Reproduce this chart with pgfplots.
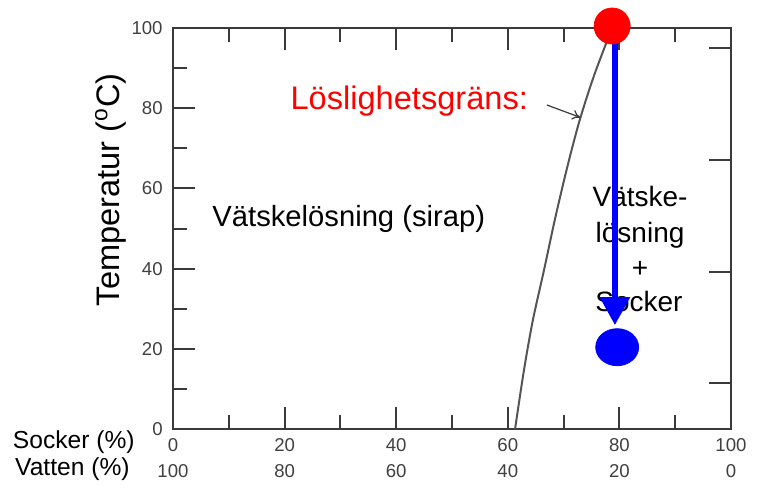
\documentclass[border=0pt]{standalone}
\usepackage{fontspec}
\setmainfont{Liberation Sans}
\usepackage{pgfplots}
\pgfplotsset{compat=1.18}
\usetikzlibrary{arrows.meta}
\definecolor{frame}{HTML}{3A3A3A}
\definecolor{ticklab}{HTML}{404040}
\definecolor{curve}{HTML}{555555}

\begin{document}
\begin{tikzpicture}
\useasboundingbox (-86.5pt,-29pt) rectangle (295.5pt,214.5pt);
\begin{axis}[
  at={(0,0)}, anchor=south west,
  width=279pt, height=200.5pt, scale only axis,
  xmin=0, xmax=100, ymin=0, ymax=100,
  clip=false,
  axis line style={frame, line width=1pt},
  tick style={frame, line width=1pt},
  xtick={0,20,...,100},
  minor xtick={10,30,...,90},
  ytick={0,20,...,100},
  minor ytick={10,30,...,90},
  ytick pos=left,
  tick align=inside,
  major tick length=11pt,
  minor tick length=7pt,
  /pgf/number format/assume math mode=true,
  xticklabels={{0\\100},{20\\80},{40\\60},{60\\40},{80\\20},{100\\0}},
  xticklabel style={align=center, inner sep=0pt, anchor=north, yshift=-4.5pt,
    font=\fontsize{9.3}{13}\selectfont, text=ticklab},
  yticklabel style={inner sep=0pt, anchor=east, xshift=-5pt,
    font=\fontsize{9.3}{11}\selectfont, text=ticklab},
]
% right-hand ticks (no labels)
\draw[frame, line width=1pt] (axis cs:100,95) -- ++(-11pt,0);
\draw[frame, line width=1pt] (axis cs:100,67.1) -- ++(-11pt,0);
\draw[frame, line width=1pt] (axis cs:100,39.2) -- ++(-11pt,0);
\draw[frame, line width=1pt] (axis cs:100,11.5) -- ++(-11pt,0);

% solubility limit
\addplot[curve, line width=1pt, smooth, tension=0.5] coordinates {
  (61.3,0) (62.9,14.7) (64.5,27.2) (66.5,39.7) (68.4,52)
  (70.6,65) (72.9,77.1) (75.6,88.7) (78.7,100)
};
\draw[-{To[length=4pt,width=5pt]}, frame, line width=0.6pt]
  (axis cs:67,80.8) -- (axis cs:73.0,77.7);

% labels
\node[anchor=base west, inner sep=0pt, text=red, font=\fontsize{16.3}{19}\selectfont]
  at (axis cs:21.0,79.6) {Löslighetsgräns:};
\node[anchor=base west, inner sep=0pt, font=\fontsize{14.6}{17}\selectfont]
  at (axis cs:7.0,50.4) {Vätskelösning (sirap)};
\node[anchor=base, inner sep=0pt, font=\fontsize{14}{17}\selectfont] at (axis cs:83.7,55.4) {Vätske-};
\node[anchor=base, inner sep=0pt, font=\fontsize{14}{17}\selectfont] at (axis cs:83.7,46.6) {lösning};
\node[anchor=base, inner sep=0pt, font=\fontsize{14}{17}\selectfont] at (axis cs:83.7,37.9) {+};
\node[anchor=base, inner sep=0pt, font=\fontsize{14}{17}\selectfont] at (axis cs:83.5,29.2) {Socker};

\node[rotate=90, anchor=base, inner sep=0pt, font=\fontsize{16.3}{19}\selectfont]
  at ([xshift=-26.5pt]rel axis cs:0,0.597) {Temperatur (\textsuperscript{o}C)};
\node[anchor=base east, inner sep=0pt, font=\fontsize{12.3}{14}\selectfont]
  at ([xshift=-19pt,yshift=-9.5pt]rel axis cs:0,0) {Socker (\%)};
\node[anchor=base east, inner sep=0pt, font=\fontsize{12.3}{14}\selectfont]
  at ([xshift=-21.5pt,yshift=-23pt]rel axis cs:0,0) {Vatten (\%)};

% cooling path
\addplot[blue, line width=3pt, -{Triangle[width=14.5pt,length=14pt]}]
  coordinates {(79.2,100) (79.2,25.9)};
\addplot[only marks, mark=*, mark size=9pt, color=red] coordinates {(78.7,100.5)};
\addplot[only marks, mark=*, mark size=9.25pt, mark options={xscale=1.16}, color=blue]
  coordinates {(79.6,20.4)};
\end{axis}
\end{tikzpicture}
\end{document}
